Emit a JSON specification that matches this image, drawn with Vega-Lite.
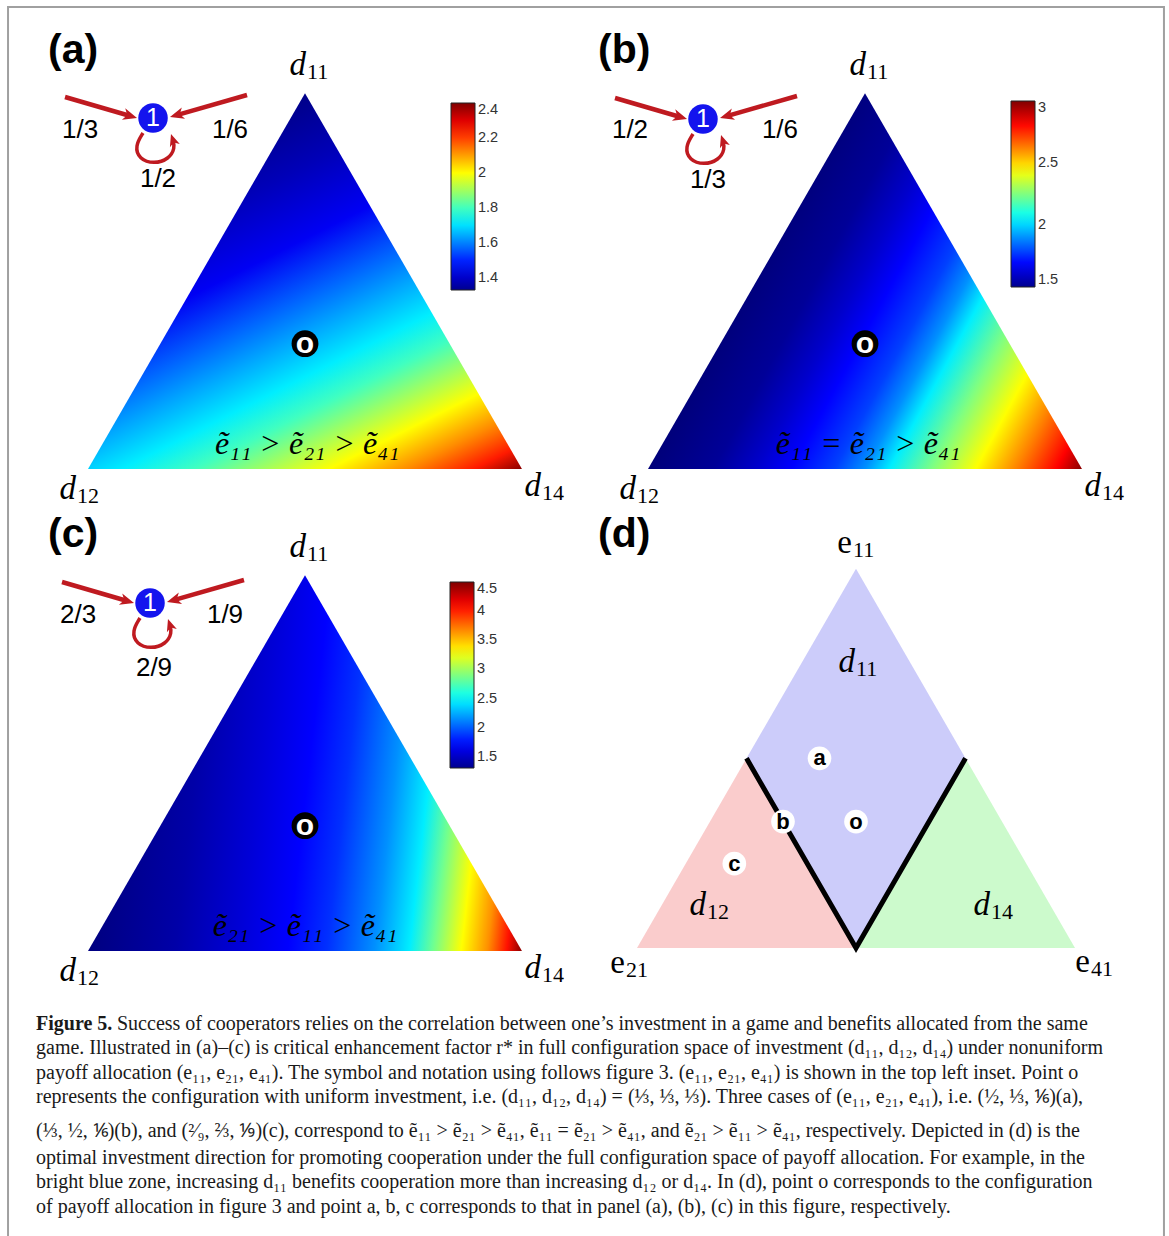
{
"$schema": "https://vega.github.io/schema/vega-lite/v6.json",
"padding": 0,
"background": "white",
"spacing": 0,
"bounds": "flush",
"align": "each",
"columns": 2,
"config": {"view": {"stroke": null}, "text": {"font": "Liberation Sans", "color": "#000"}},
"resolve": {"scale": {"color": "independent"}, "legend": {"color": "independent"}},
"datasets": {
 "frame": [{"x":-0.1843,"x2":2.4793,"y":1.0645,"y2":-1.7995}],
 "tri": [{"x":0,"y":0,"y2":0},{"x":0.5,"y":0.866,"y2":0},{"x":1,"y":0,"y2":0}],
 "rv": [
  {"g":"a","x":0.5,"y":0.866,"r":1.36},{"g":"a","x":0,"y":0,"r":1.68},{"g":"a","x":1,"y":0,"r":2.4},
  {"g":"b","x":0.5,"y":0.866,"r":1.51},{"g":"b","x":0,"y":0,"r":1.5},{"g":"b","x":1,"y":0,"r":3.0},
  {"g":"c","x":0.5,"y":0.866,"r":1.66},{"g":"c","x":0,"y":0,"r":1.32},{"g":"c","x":1,"y":0,"r":4.5}
 ],
 "cen": [{"x":0.5,"y":0.2887,"t":"o"}],
 "vlab": [{"x":0.5023,"y":0.9078,"m":"d","s":"11"},{"x":-0.0276,"y":-0.0691,"m":"d","s":"12"},{"x":1.0438,"y":-0.0622,"m":"d","s":"14"}],
 "ineq": [
  {"g":"a","x":0.505,"y":0.035,"t":"ẽ₁₁ > ẽ₂₁ > ẽ₄₁"},
  {"g":"b","x":0.507,"y":0.035,"t":"ẽ₁₁ = ẽ₂₁ > ẽ₄₁"},
  {"g":"c","x":0.5,"y":0.035,"t":"ẽ₂₁ > ẽ₁₁ > ẽ₄₁"}
 ],
 "letters": [
  {"g":"a","x":-0.0922,"y":0.9355,"t":"(a)"},
  {"g":"b","x":-0.1152,"y":0.9355,"t":"(b)"},
  {"g":"c","x":-0.0922,"y":0.9309,"t":"(c)"},
  {"g":"d","x":-0.0890,"y":0.9155,"t":"(d)"}
 ],
 "insetA": [
  {"p":"arrow","x":-0.0530,"y":0.8571,"x2":0.0975,"y2":0.8134},
  {"p":"arrow","x":0.3664,"y":0.8618,"x2":0.2044,"y2":0.8154},
  {"p":"headL","x":0.1129,"y":0.8088},
  {"p":"headR","x":0.1889,"y":0.8111},
  {"p":"headO","x":0.1912,"y":0.7719},
  {"p":"loop","k":0,"x":0.1267,"y":0.7742},
  {"p":"loop","k":1,"x":0.1083,"y":0.7442},
  {"p":"loop","k":2,"x":0.1175,"y":0.7143},
  {"p":"loop","k":3,"x":0.1521,"y":0.7028},
  {"p":"loop","k":4,"x":0.1866,"y":0.7143},
  {"p":"loop","k":5,"x":0.2005,"y":0.7396},
  {"p":"loop","k":6,"x":0.1959,"y":0.7581},
  {"p":"node","x":0.1498,"y":0.8088,"t":"1"},
  {"p":"lab","x":-0.0184,"y":0.7811,"t":"1/3"},
  {"p":"lab","x":0.3272,"y":0.7811,"t":"1/6"},
  {"p":"lab","x":0.1613,"y":0.6682,"t":"1/2"}
 ],
 "insetB": [
  {"p":"arrow","x":-0.0760,"y":0.8548,"x2":0.0744,"y2":0.8111},
  {"p":"arrow","x":0.3433,"y":0.8594,"x2":0.1813,"y2":0.8131},
  {"p":"headL","x":0.0899,"y":0.8065},
  {"p":"headR","x":0.1659,"y":0.8088},
  {"p":"headO","x":0.1682,"y":0.7696},
  {"p":"loop","k":0,"x":0.1037,"y":0.7719},
  {"p":"loop","k":1,"x":0.0853,"y":0.7419},
  {"p":"loop","k":2,"x":0.0945,"y":0.7120},
  {"p":"loop","k":3,"x":0.1290,"y":0.7005},
  {"p":"loop","k":4,"x":0.1636,"y":0.7120},
  {"p":"loop","k":5,"x":0.1774,"y":0.7373},
  {"p":"loop","k":6,"x":0.1728,"y":0.7558},
  {"p":"node","x":0.1267,"y":0.8065,"t":"1"},
  {"p":"lab","x":-0.0415,"y":0.7811,"t":"1/2"},
  {"p":"lab","x":0.3041,"y":0.7811,"t":"1/6"},
  {"p":"lab","x":0.1382,"y":0.6659,"t":"1/3"}
 ],
 "insetC": [
  {"p":"arrow","x":-0.0599,"y":0.8502,"x2":0.0906,"y2":0.8065},
  {"p":"arrow","x":0.3594,"y":0.8548,"x2":0.1975,"y2":0.8085},
  {"p":"headL","x":0.1060,"y":0.8018},
  {"p":"headR","x":0.1820,"y":0.8041},
  {"p":"headO","x":0.1843,"y":0.7650},
  {"p":"loop","k":0,"x":0.1198,"y":0.7673},
  {"p":"loop","k":1,"x":0.1014,"y":0.7373},
  {"p":"loop","k":2,"x":0.1106,"y":0.7074},
  {"p":"loop","k":3,"x":0.1452,"y":0.6959},
  {"p":"loop","k":4,"x":0.1797,"y":0.7074},
  {"p":"loop","k":5,"x":0.1935,"y":0.7327},
  {"p":"loop","k":6,"x":0.1889,"y":0.7512},
  {"p":"node","x":0.1429,"y":0.8018,"t":"1"},
  {"p":"lab","x":-0.0230,"y":0.7742,"t":"2/3"},
  {"p":"lab","x":0.3157,"y":0.7742,"t":"1/9"},
  {"p":"lab","x":0.1521,"y":0.6521,"t":"2/9"}
 ],
 "regions": [
  {"reg":"d12","x":0,"y":0,"y2":0},{"reg":"d12","x":0.25,"y":0.433,"y2":0},{"reg":"d12","x":0.5,"y":0,"y2":0},
  {"reg":"d11","x":0.25,"y":0.433,"y2":0.433},{"reg":"d11","x":0.5,"y":0.866,"y2":0},{"reg":"d11","x":0.75,"y":0.433,"y2":0.433},
  {"reg":"d14","x":0.5,"y":0,"y2":0},{"reg":"d14","x":0.75,"y":0.433,"y2":0},{"reg":"d14","x":1,"y":0,"y2":0}
 ],
 "bound": [{"k":0,"x":0.25,"y":0.433},{"k":1,"x":0.5,"y":0},{"k":2,"x":0.75,"y":0.433}],
 "pts": [{"x":0.4167,"y":0.4330,"t":"a"},{"x":0.3333,"y":0.2887,"t":"b"},{"x":0.5,"y":0.2887,"t":"o"},{"x":0.2222,"y":0.1925,"t":"c"}],
 "dlab": [
  {"x":0.4909,"y":0.9018,"m":"e","s":"11"},{"x":-0.0274,"y":-0.0571,"m":"e","s":"21"},{"x":1.0342,"y":-0.0548,"m":"e","s":"41"},
  {"x":0.4977,"y":0.6301,"m":"d","s":"11"},{"x":0.1575,"y":0.0753,"m":"d","s":"12"},{"x":0.8059,"y":0.0753,"m":"d","s":"14"}
 ],
 "cap": [
  {"line":1,"y":1,"lead":"Figure 5.","t":"Success of cooperators relies on the correlation between one’s investment in a game and benefits allocated from the same"},
  {"line":2,"y":2,"t":"game. Illustrated in (a)–(c) is critical enhancement factor r* in full configuration space of investment (d₁₁, d₁₂, d₁₄) under nonuniform"},
  {"line":3,"y":3,"t":"payoff allocation (e₁₁, e₂₁, e₄₁). The symbol and notation using follows figure 3. (e₁₁, e₂₁, e₄₁) is shown in the top left inset. Point o"},
  {"line":4,"y":4,"t":"represents the configuration with uniform investment, i.e. (d₁₁, d₁₂, d₁₄) = (⅓, ⅓, ⅓). Three cases of (e₁₁, e₂₁, e₄₁), i.e. (½, ⅓, ⅙)(a),"},
  {"line":5,"y":5.385,"t":"(⅓, ½, ⅙)(b), and (²⁄₉, ⅔, ⅑)(c), correspond to ẽ₁₁ > ẽ₂₁ > ẽ₄₁, ẽ₁₁ = ẽ₂₁ > ẽ₄₁, and ẽ₂₁ > ẽ₁₁ > ẽ₄₁, respectively. Depicted in (d) is the"},
  {"line":6,"y":6.49,"t":"optimal investment direction for promoting cooperation under the full configuration space of payoff allocation. For example, in the"},
  {"line":7,"y":7.475,"t":"bright blue zone, increasing d₁₁ benefits cooperation more than increasing d₁₂ or d₁₄. In (d), point o corresponds to the configuration"},
  {"line":8,"y":8.5,"t":"of payoff allocation in figure 3 and point a, b, c corresponds to that in panel (a), (b), (c) in this figure, respectively."}
 ]
},
"concat": [
   {
    "width": 560, "height": 482,
    "encoding": {
     "x": {"field":"x","type":"quantitative","axis":null,"scale":{"domain":[-0.2028,1.0876],"nice":false,"zero":false}},
     "y": {"field":"y","type":"quantitative","axis":null,"scale":{"domain":[-0.02995,1.08065],"nice":false,"zero":false}}
    },
    "layer": [
     {"data":{"name":"frame"},"mark":{"type":"rect","fill":"transparent","stroke":"#a0a0a0","strokeWidth":2},
      "encoding":{"x2":{"field":"x2"},"y2":{"field":"y2"}}},
     {"data":{"name":"tri"},"mark":{"type":"area","color":{"gradient":"linear","x1":0.5,"y1":0,"x2":1.06,"y2":0.965,"stops":[
       {"offset":0,"color":"#000088"},{"offset":0.15,"color":"#0000b8"},{"offset":0.3,"color":"#0000f4"},{"offset":0.42,"color":"#0064ff"},
       {"offset":0.5,"color":"#00a8ff"},{"offset":0.585,"color":"#00eeff"},{"offset":0.66,"color":"#40ffc0"},{"offset":0.73,"color":"#a0ff60"},
       {"offset":0.8,"color":"#ffff00"},{"offset":0.88,"color":"#ff8c00"},{"offset":0.95,"color":"#ff1a00"},{"offset":1,"color":"#8a0000"}]}},
      "encoding":{"y2":{"field":"y2"}}},
     {"data":{"name":"rv"},"transform":[{"filter":"datum.g==='a'"}],"mark":{"type":"point","opacity":0},
      "encoding":{"color":{"field":"r","type":"quantitative",
       "scale":{"type":"linear","domain":[1.33,1.4638,1.7313,1.9988,2.2663,2.4],"range":["#00008f","#0000ff","#00ffff","#ffff00","#ff0000","#800000"],"interpolate":"rgb","nice":false},
       "legend":{"orient":"none","legendX":451,"legendY":103,"direction":"vertical","title":null,"padding":0,"gradientLength":187,"gradientThickness":24,
        "values":[1.4,1.6,1.8,2,2.2,2.4],"format":".1~f","labelFont":"Liberation Sans","labelFontSize":14.5,"labelColor":"#333","labelBaseline":"middle","labelOffset":3,"labelOverlap":false,
        "gradientStrokeColor":"#222","gradientStrokeWidth":1}}}},
     {"data":{"name":"cen"},"mark":{"type":"point","shape":"circle","filled":true,"color":"#000","size":720,"opacity":1}},
     {"data":{"name":"cen"},"mark":{"type":"text","font":"Liberation Sans","fontWeight":"bold","fontSize":30,"color":"#fff","align":"center","baseline":"middle"},"encoding":{"text":{"field":"t"}}},
     {"data":{"name":"ineq"},"transform":[{"filter":"datum.g==='a'"}],"mark":{"type":"text","font":"Liberation Serif","fontStyle":"italic","fontSize":32,"align":"center","baseline":"alphabetic","color":"#000"},"encoding":{"text":{"field":"t"}}},
     {"data":{"name":"vlab"},"mark":{"type":"text","font":"Liberation Serif","fontStyle":"italic","fontSize":33,"align":"right","baseline":"alphabetic","color":"#000"},"encoding":{"text":{"field":"m"}}},
     {"data":{"name":"vlab"},"mark":{"type":"text","font":"Liberation Serif","fontSize":22,"align":"left","baseline":"alphabetic","dx":1,"dy":4,"color":"#000"},"encoding":{"text":{"field":"s"}}},
     {"data":{"name":"letters"},"transform":[{"filter":"datum.g==='a'"}],"mark":{"type":"text","font":"Liberation Sans","fontWeight":"bold","fontSize":41,"align":"left","baseline":"alphabetic","color":"#000"},"encoding":{"text":{"field":"t"}}},
     {"data":{"name":"insetA"},"transform":[{"filter":"datum.p==='arrow'"}],"mark":{"type":"rule","color":"#bf1a20","strokeWidth":4.5},"encoding":{"x2":{"field":"x2"},"y2":{"field":"y2"}}},
     {"data":{"name":"insetA"},"transform":[{"filter":"datum.p==='loop'"}],"mark":{"type":"line","color":"#bf1a20","strokeWidth":3.5,"interpolate":"basis"},"encoding":{"order":{"field":"k","type":"quantitative"}}},
     {"data":{"name":"insetA"},"transform":[{"filter":"datum.p==='headL'"}],"mark":{"type":"point","shape":"M0,0L-2,-0.85L-1.45,0L-2,0.85Z","filled":true,"color":"#bf1a20","size":196,"angle":16.3,"opacity":1}},
     {"data":{"name":"insetA"},"transform":[{"filter":"datum.p==='headR'"}],"mark":{"type":"point","shape":"M0,0L-2,-0.85L-1.45,0L-2,0.85Z","filled":true,"color":"#bf1a20","size":196,"angle":164,"opacity":1}},
     {"data":{"name":"insetA"},"transform":[{"filter":"datum.p==='headO'"}],"mark":{"type":"point","shape":"M0,0L-2,-0.85L-1.45,0L-2,0.85Z","filled":true,"color":"#bf1a20","size":150,"angle":251.6,"opacity":1}},
     {"data":{"name":"insetA"},"transform":[{"filter":"datum.p==='node'"}],"mark":{"type":"point","shape":"circle","filled":true,"color":"#1414ee","size":870,"opacity":1}},
     {"data":{"name":"insetA"},"transform":[{"filter":"datum.p==='node'"}],"mark":{"type":"text","font":"Liberation Sans","fontSize":25,"color":"#fff","align":"center","baseline":"middle"},"encoding":{"text":{"field":"t"}}},
     {"data":{"name":"insetA"},"transform":[{"filter":"datum.p==='lab'"}],"mark":{"type":"text","font":"Liberation Sans","fontSize":26,"color":"#000","align":"center","baseline":"middle"},"encoding":{"text":{"field":"t"}}}
    ]
   },
   {
    "width": 609, "height": 482,
    "encoding": {
     "x": {"field":"x","type":"quantitative","axis":null,"scale":{"domain":[-0.2028,1.2005],"nice":false,"zero":false}},
     "y": {"field":"y","type":"quantitative","axis":null,"scale":{"domain":[-0.02995,1.08065],"nice":false,"zero":false}}
    },
    "layer": [
     {"data":{"name":"tri"},"mark":{"type":"area","color":{"gradient":"linear","x1":0,"y1":1,"x2":0.819,"y2":1.385,"stops":[
       {"offset":0,"color":"#00007a"},{"offset":0.15,"color":"#000098"},{"offset":0.25,"color":"#0000cc"},{"offset":0.33,"color":"#0000ff"},
       {"offset":0.43,"color":"#0040ff"},{"offset":0.5,"color":"#0090ff"},{"offset":0.556,"color":"#00eeff"},{"offset":0.655,"color":"#80ff80"},
       {"offset":0.755,"color":"#ffff00"},{"offset":0.85,"color":"#ff8000"},{"offset":0.94,"color":"#ff0000"},{"offset":1,"color":"#880000"}]}},
      "encoding":{"y2":{"field":"y2"}}},
     {"data":{"name":"rv"},"transform":[{"filter":"datum.g==='b'"}],"mark":{"type":"point","opacity":0},
      "encoding":{"color":{"field":"r","type":"quantitative",
       "scale":{"type":"linear","domain":[1.5,1.6875,2.0625,2.4375,2.8125,3.0],"range":["#00008f","#0000ff","#00ffff","#ffff00","#ff0000","#800000"],"interpolate":"rgb","nice":false},
       "legend":{"orient":"none","legendX":451,"legendY":101,"direction":"vertical","title":null,"padding":0,"gradientLength":186,"gradientThickness":24,
        "values":[1.5,2,2.5,3],"format":".1~f","labelFont":"Liberation Sans","labelFontSize":14.5,"labelColor":"#333","labelBaseline":"middle","labelOffset":3,"labelOverlap":false,
        "gradientStrokeColor":"#222","gradientStrokeWidth":1}}}},
     {"data":{"name":"cen"},"mark":{"type":"point","shape":"circle","filled":true,"color":"#000","size":720,"opacity":1}},
     {"data":{"name":"cen"},"mark":{"type":"text","font":"Liberation Sans","fontWeight":"bold","fontSize":30,"color":"#fff","align":"center","baseline":"middle"},"encoding":{"text":{"field":"t"}}},
     {"data":{"name":"ineq"},"transform":[{"filter":"datum.g==='b'"}],"mark":{"type":"text","font":"Liberation Serif","fontStyle":"italic","fontSize":32,"align":"center","baseline":"alphabetic","color":"#000"},"encoding":{"text":{"field":"t"}}},
     {"data":{"name":"vlab"},"mark":{"type":"text","font":"Liberation Serif","fontStyle":"italic","fontSize":33,"align":"right","baseline":"alphabetic","color":"#000"},"encoding":{"text":{"field":"m"}}},
     {"data":{"name":"vlab"},"mark":{"type":"text","font":"Liberation Serif","fontSize":22,"align":"left","baseline":"alphabetic","dx":1,"dy":4,"color":"#000"},"encoding":{"text":{"field":"s"}}},
     {"data":{"name":"letters"},"transform":[{"filter":"datum.g==='b'"}],"mark":{"type":"text","font":"Liberation Sans","fontWeight":"bold","fontSize":41,"align":"left","baseline":"alphabetic","color":"#000"},"encoding":{"text":{"field":"t"}}},
     {"data":{"name":"insetB"},"transform":[{"filter":"datum.p==='arrow'"}],"mark":{"type":"rule","color":"#bf1a20","strokeWidth":4.5},"encoding":{"x2":{"field":"x2"},"y2":{"field":"y2"}}},
     {"data":{"name":"insetB"},"transform":[{"filter":"datum.p==='loop'"}],"mark":{"type":"line","color":"#bf1a20","strokeWidth":3.5,"interpolate":"basis"},"encoding":{"order":{"field":"k","type":"quantitative"}}},
     {"data":{"name":"insetB"},"transform":[{"filter":"datum.p==='headL'"}],"mark":{"type":"point","shape":"M0,0L-2,-0.85L-1.45,0L-2,0.85Z","filled":true,"color":"#bf1a20","size":196,"angle":16.3,"opacity":1}},
     {"data":{"name":"insetB"},"transform":[{"filter":"datum.p==='headR'"}],"mark":{"type":"point","shape":"M0,0L-2,-0.85L-1.45,0L-2,0.85Z","filled":true,"color":"#bf1a20","size":196,"angle":164,"opacity":1}},
     {"data":{"name":"insetB"},"transform":[{"filter":"datum.p==='headO'"}],"mark":{"type":"point","shape":"M0,0L-2,-0.85L-1.45,0L-2,0.85Z","filled":true,"color":"#bf1a20","size":150,"angle":251.6,"opacity":1}},
     {"data":{"name":"insetB"},"transform":[{"filter":"datum.p==='node'"}],"mark":{"type":"point","shape":"circle","filled":true,"color":"#1414ee","size":870,"opacity":1}},
     {"data":{"name":"insetB"},"transform":[{"filter":"datum.p==='node'"}],"mark":{"type":"text","font":"Liberation Sans","fontSize":25,"color":"#fff","align":"center","baseline":"middle"},"encoding":{"text":{"field":"t"}}},
     {"data":{"name":"insetB"},"transform":[{"filter":"datum.p==='lab'"}],"mark":{"type":"text","font":"Liberation Sans","fontSize":26,"color":"#000","align":"center","baseline":"middle"},"encoding":{"text":{"field":"t"}}}
    ]
   },
   {
    "width": 560, "height": 754,
    "resolve": {"scale": {"x": "independent", "y": "independent"}},
    "layer": [
     {
      "encoding": {
       "x": {"field":"x","type":"quantitative","axis":null,"scale":{"domain":[-0.2028,1.0876],"nice":false,"zero":false}},
       "y": {"field":"y","type":"quantitative","axis":null,"scale":{"domain":[-0.6567,1.08065],"nice":false,"zero":false}}
      },
      "layer": [
       {"data":{"name":"tri"},"mark":{"type":"area","color":{"gradient":"linear","x1":0,"y1":1,"x2":0.99,"y2":1.099,"stops":[
         {"offset":0,"color":"#000080"},{"offset":0.2,"color":"#0000a8"},{"offset":0.35,"color":"#0000d8"},{"offset":0.46,"color":"#0000ff"},
         {"offset":0.55,"color":"#0030ff"},{"offset":0.66,"color":"#0090ff"},{"offset":0.74,"color":"#00eeff"},{"offset":0.795,"color":"#70ff90"},
         {"offset":0.86,"color":"#ffff00"},{"offset":0.92,"color":"#ff9000"},{"offset":0.965,"color":"#ff1000"},{"offset":1,"color":"#8a0000"}]}},
        "encoding":{"y2":{"field":"y2"}}},
       {"data":{"name":"rv"},"transform":[{"filter":"datum.g==='c'"}],"mark":{"type":"point","opacity":0},
        "encoding":{"color":{"field":"r","type":"quantitative",
         "scale":{"type":"linear","domain":[1.31,1.7088,2.5063,3.3038,4.1013,4.5],"range":["#00008f","#0000ff","#00ffff","#ffff00","#ff0000","#800000"],"interpolate":"rgb","nice":false},
         "legend":{"orient":"none","legendX":450,"legendY":100,"direction":"vertical","title":null,"padding":0,"gradientLength":186,"gradientThickness":24,
          "values":[1.5,2,2.5,3,3.5,4,4.5],"format":".1~f","labelFont":"Liberation Sans","labelFontSize":14.5,"labelColor":"#333","labelBaseline":"middle","labelOffset":3,"labelOverlap":false,
          "gradientStrokeColor":"#222","gradientStrokeWidth":1}}}},
       {"data":{"name":"cen"},"mark":{"type":"point","shape":"circle","filled":true,"color":"#000","size":720,"opacity":1}},
       {"data":{"name":"cen"},"mark":{"type":"text","font":"Liberation Sans","fontWeight":"bold","fontSize":30,"color":"#fff","align":"center","baseline":"middle"},"encoding":{"text":{"field":"t"}}},
       {"data":{"name":"ineq"},"transform":[{"filter":"datum.g==='c'"}],"mark":{"type":"text","font":"Liberation Serif","fontStyle":"italic","fontSize":32,"align":"center","baseline":"alphabetic","color":"#000"},"encoding":{"text":{"field":"t"}}},
       {"data":{"name":"vlab"},"mark":{"type":"text","font":"Liberation Serif","fontStyle":"italic","fontSize":33,"align":"right","baseline":"alphabetic","color":"#000"},"encoding":{"text":{"field":"m"}}},
       {"data":{"name":"vlab"},"mark":{"type":"text","font":"Liberation Serif","fontSize":22,"align":"left","baseline":"alphabetic","dx":1,"dy":4,"color":"#000"},"encoding":{"text":{"field":"s"}}},
       {"data":{"name":"letters"},"transform":[{"filter":"datum.g==='c'"}],"mark":{"type":"text","font":"Liberation Sans","fontWeight":"bold","fontSize":41,"align":"left","baseline":"alphabetic","color":"#000"},"encoding":{"text":{"field":"t"}}},
       {"data":{"name":"insetC"},"transform":[{"filter":"datum.p==='arrow'"}],"mark":{"type":"rule","color":"#bf1a20","strokeWidth":4.5},"encoding":{"x2":{"field":"x2"},"y2":{"field":"y2"}}},
       {"data":{"name":"insetC"},"transform":[{"filter":"datum.p==='loop'"}],"mark":{"type":"line","color":"#bf1a20","strokeWidth":3.5,"interpolate":"basis"},"encoding":{"order":{"field":"k","type":"quantitative"}}},
       {"data":{"name":"insetC"},"transform":[{"filter":"datum.p==='headL'"}],"mark":{"type":"point","shape":"M0,0L-2,-0.85L-1.45,0L-2,0.85Z","filled":true,"color":"#bf1a20","size":196,"angle":16.3,"opacity":1}},
       {"data":{"name":"insetC"},"transform":[{"filter":"datum.p==='headR'"}],"mark":{"type":"point","shape":"M0,0L-2,-0.85L-1.45,0L-2,0.85Z","filled":true,"color":"#bf1a20","size":196,"angle":164,"opacity":1}},
       {"data":{"name":"insetC"},"transform":[{"filter":"datum.p==='headO'"}],"mark":{"type":"point","shape":"M0,0L-2,-0.85L-1.45,0L-2,0.85Z","filled":true,"color":"#bf1a20","size":150,"angle":251.6,"opacity":1}},
       {"data":{"name":"insetC"},"transform":[{"filter":"datum.p==='node'"}],"mark":{"type":"point","shape":"circle","filled":true,"color":"#1414ee","size":870,"opacity":1}},
       {"data":{"name":"insetC"},"transform":[{"filter":"datum.p==='node'"}],"mark":{"type":"text","font":"Liberation Sans","fontSize":25,"color":"#fff","align":"center","baseline":"middle"},"encoding":{"text":{"field":"t"}}},
       {"data":{"name":"insetC"},"transform":[{"filter":"datum.p==='lab'"}],"mark":{"type":"text","font":"Liberation Sans","fontSize":26,"color":"#000","align":"center","baseline":"middle"},"encoding":{"text":{"field":"t"}}}
      ]
     },
     {
      "data": {"name": "cap"},
      "encoding": {
       "x": {"datum": 0, "type": "quantitative", "axis": null, "scale": {"domain": [-36, 524], "nice": false, "zero": false}},
       "y": {"field": "y", "type": "quantitative", "axis": null, "scale": {"domain": [-21.459, 9.4426], "reverse": true, "nice": false, "zero": false}}
      },
      "layer": [
       {"transform":[{"filter":"datum.line===1"}],"mark":{"type":"text","align":"left","baseline":"alphabetic","font":"Liberation Serif","fontSize":20,"fontWeight":"bold","color":"#1a1a1a"},"encoding":{"text":{"field":"lead"}}},
       {"transform":[{"filter":"datum.line===1"}],"mark":{"type":"text","align":"left","baseline":"alphabetic","font":"Liberation Serif","fontSize":20,"dx":81,"color":"#1a1a1a"},"encoding":{"text":{"field":"t"}}},
       {"transform":[{"filter":"datum.line>1"}],"mark":{"type":"text","align":"left","baseline":"alphabetic","font":"Liberation Serif","fontSize":20,"color":"#1a1a1a"},"encoding":{"text":{"field":"t"}}}
      ]
     }
    ]
   },
   {
    "width": 609, "height": 754,
    "encoding": {
     "x": {"field":"x","type":"quantitative","axis":null,"scale":{"domain":[-0.1758,1.2146],"nice":false,"zero":false}},
     "y": {"field":"y","type":"quantitative","axis":null,"scale":{"domain":[-0.6575,1.06393],"nice":false,"zero":false}}
    },
    "layer": [
     {"data":{"name":"regions"},"mark":{"type":"area","opacity":1},
      "encoding":{"y2":{"field":"y2"},"color":{"field":"reg","type":"nominal","scale":{"domain":["d11","d12","d14"],"range":["#ccccfa","#facccc","#ccfacc"]},"legend":null}}},
     {"data":{"name":"bound"},"mark":{"type":"line","color":"#000","strokeWidth":5,"strokeJoin":"miter"},"encoding":{"order":{"field":"k","type":"quantitative"}}},
     {"data":{"name":"pts"},"mark":{"type":"point","shape":"circle","filled":true,"color":"#fff","size":560,"opacity":1}},
     {"data":{"name":"pts"},"mark":{"type":"text","font":"Liberation Sans","fontWeight":"bold","fontSize":22,"color":"#000","align":"center","baseline":"middle"},"encoding":{"text":{"field":"t"}}},
     {"data":{"name":"dlab"},"transform":[{"filter":"datum.m==='d'"}],"mark":{"type":"text","font":"Liberation Serif","fontStyle":"italic","fontSize":33,"align":"right","baseline":"alphabetic","color":"#000"},"encoding":{"text":{"field":"m"}}},
     {"data":{"name":"dlab"},"transform":[{"filter":"datum.m==='e'"}],"mark":{"type":"text","font":"Liberation Serif","fontSize":33,"align":"right","baseline":"alphabetic","color":"#000"},"encoding":{"text":{"field":"m"}}},
     {"data":{"name":"dlab"},"mark":{"type":"text","font":"Liberation Serif","fontSize":22,"align":"left","baseline":"alphabetic","dx":1,"dy":4,"color":"#000"},"encoding":{"text":{"field":"s"}}},
     {"data":{"name":"letters"},"transform":[{"filter":"datum.g==='d'"}],"mark":{"type":"text","font":"Liberation Sans","fontWeight":"bold","fontSize":41,"align":"left","baseline":"alphabetic","color":"#000"},"encoding":{"text":{"field":"t"}}}
    ]
   }
]
}
